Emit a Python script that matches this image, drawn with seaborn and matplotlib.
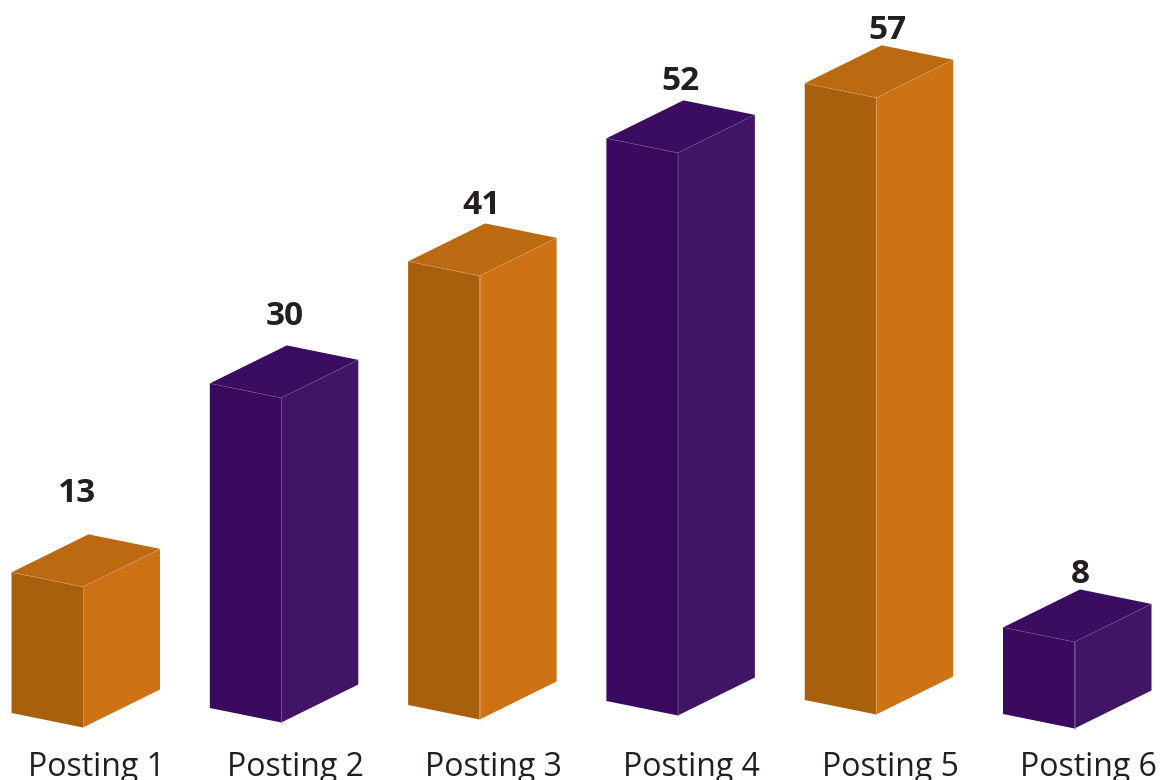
import numpy as np
import matplotlib
matplotlib.use("Agg")
import matplotlib.pyplot as plt
from matplotlib.patches import Polygon
from matplotlib.transforms import Affine2D
import seaborn as sns

# data
postings = ["Posting 1", "Posting 2", "Posting 3", "Posting 4", "Posting 5", "Posting 6"]
counts = [13, 30, 41, 52, 57, 8]

# face colours
front_colors = ["#A9600D", "#3A0A5E", "#A9600D", "#3A0A5E", "#A9600D", "#3A0A5E"]
side_colors = ["#CD7316", "#401566", "#CD7316", "#401566", "#CD7316", "#401566"]
top_colors = ["#BB6A12", "#3A0D60", "#BB6A12", "#3A0D60", "#BB6A12", "#3A0D60"]
edge_colors = ["#E0A868", "#7A5A9A", "#E0A868", "#7A5A9A", "#E0A868", "#7A5A9A"]

# layout, in pixels of the 1161x780 picture
PX_X = 198.3      # one category step
PX_Y = 10.82      # one count
BAR_W = 71.5 / PX_X
DEPTH_X = 77 / PX_X
DEPTH_Y = 38 / PX_Y
SLOPE = 14.5 / PX_Y / BAR_W
base_shift = np.array([0, 5, 8, 12, 13, -1]) / PX_Y
label_dx = np.array([65.5, 75, 73, 74, 83, 77]) / PX_X
label_dy = np.array([41, 29, 18, 19, 15, 15]) / PX_Y

sns.set_style("white")
plt.rcParams["font.family"] = ["Open Sans", "DejaVu Sans"]

fig = plt.figure(figsize=(11.61, 7.8), dpi=100)
ax = fig.add_axes([0, 35 / 780, 1, 745 / 780])

sns.barplot(x=postings, y=counts, hue=postings, palette=front_colors, saturation=1,
            width=BAR_W, legend=False, linewidth=0, ax=ax, zorder=2)

x_min = -BAR_W / 2 - 11.5 / PX_X
ax.set_xlim(x_min, x_min + 1161 / PX_X)
ax.set_ylim(-(745 - 713) / PX_Y, 713 / PX_Y)

for i, bar in enumerate(ax.patches):
    left = bar.get_x()
    right = left + bar.get_width()
    h = bar.get_height()
    b = base_shift[i]

    # shear the seaborn bar so it becomes the front face
    shear = Affine2D.from_values(1, -SLOPE, 0, 1, 0, SLOPE * left + b)
    bar.set_transform(shear + ax.transData)

    y_fall = SLOPE * bar.get_width()
    tl = (left, h + b)
    tr = (right, h + b - y_fall)
    br = (right, b - y_fall)
    side = [tr, (right + DEPTH_X, tr[1] + DEPTH_Y), (right + DEPTH_X, br[1] + DEPTH_Y), br]
    top = [tl, (left + DEPTH_X, tl[1] + DEPTH_Y), (right + DEPTH_X, tr[1] + DEPTH_Y), tr]
    ax.add_patch(Polygon(side, closed=True, fc=side_colors[i], ec="none", zorder=2))
    ax.add_patch(Polygon(top, closed=True, fc=top_colors[i], ec="none", zorder=2))

    # thin light seams where the faces meet
    ax.plot([tl[0], tr[0], side[1][0]], [tl[1], tr[1], side[1][1]],
            color=edge_colors[i], lw=0.4, alpha=0.7, zorder=3)
    ax.plot([tr[0], br[0]], [tr[1], br[1]], color=edge_colors[i], lw=0.5, alpha=0.7, zorder=3)

    ax.text(left + label_dx[i], h + b + DEPTH_Y + label_dy[i], str(counts[i]),
            ha="center", va="center", fontsize=24, fontweight="bold", color="#231F20")

# labels sit to the right of the bar centres
ax.set_xticks(np.arange(len(postings)) + 0.25)
ax.set_xticklabels(postings, fontsize=23, color="#231F20")
ax.tick_params(axis="x", length=0, pad=4.5)
ax.set_yticks([])
ax.set_xlabel("")
ax.set_ylabel("")
sns.despine(ax=ax, left=True, bottom=True)
ax.patch.set_alpha(0)

fig.savefig("out.png", dpi=100)
